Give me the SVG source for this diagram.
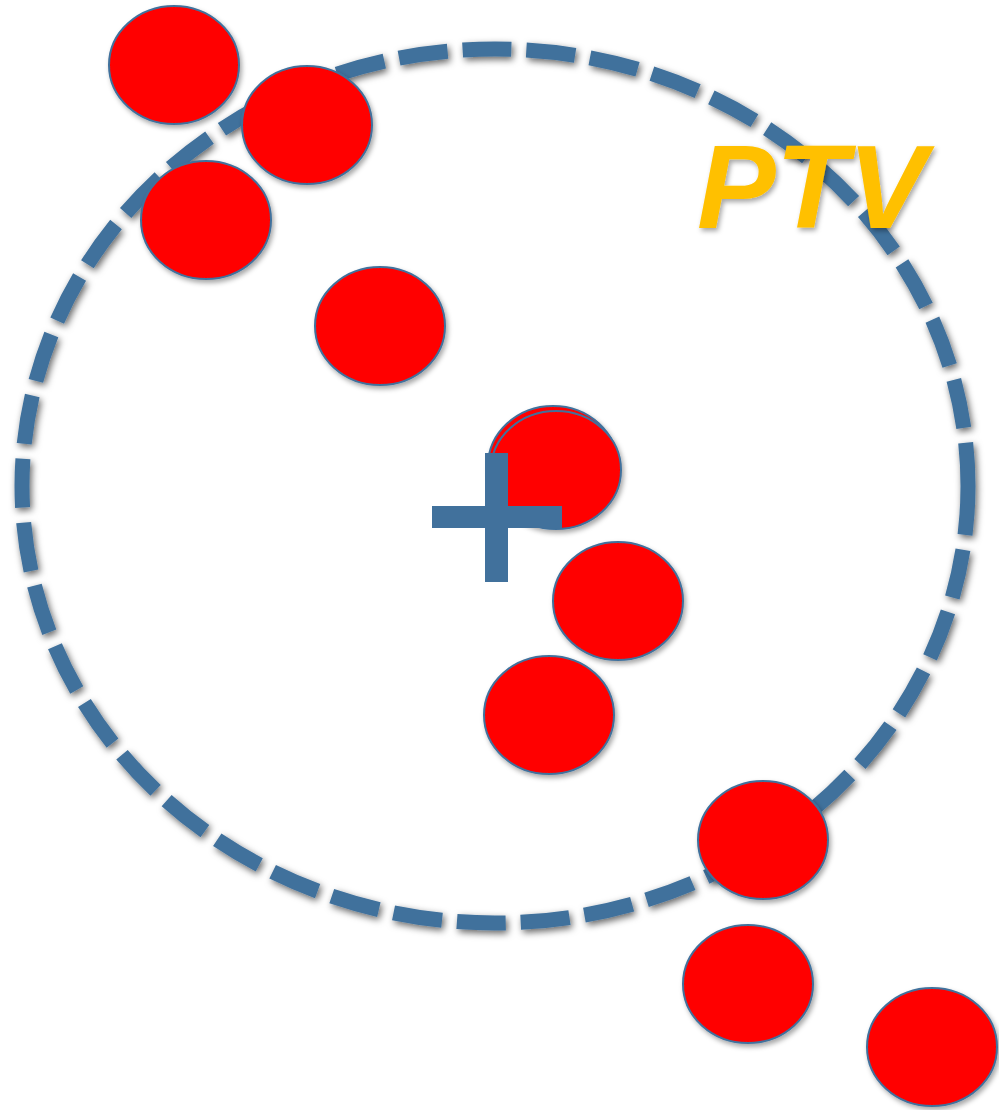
<svg xmlns="http://www.w3.org/2000/svg" width="999" height="1110" viewBox="0 0 999 1110">
  <defs>
    <filter id="sh" x="-20%" y="-20%" width="140%" height="140%">
      <feDropShadow dx="2" dy="3" stdDeviation="2.5" flood-color="#000" flood-opacity="0.35"/>
    </filter>
    <filter id="shc" x="-10%" y="-10%" width="120%" height="120%">
      <feDropShadow dx="2" dy="3" stdDeviation="3.5" flood-color="#000" flood-opacity="0.6"/>
    </filter>
  </defs>
  <style>
    .ptv { fill: none; stroke: #41719C; stroke-width: 15; stroke-dasharray: 49 15; }
    .dot { fill: #FF0000; stroke: #41719C; stroke-width: 2; }
    .plus { fill: #41719C; }
    .lbl { font-family: "Liberation Sans", Arial, sans-serif; font-weight: bold; font-style: italic; font-size: 118px; fill: #FFC000; }
  </style>
  <g id="ptv-outline" filter="url(#shc)">
    <ellipse class="ptv" cx="495" cy="486" rx="473" ry="437"/>
  </g>
  <g id="ptv-label" filter="url(#sh)">
    <text class="lbl" x="697" y="228">PTV</text>
  </g>
  <g id="spots" filter="url(#sh)">
    <ellipse id="s1" class="dot" cx="174" cy="65" rx="65" ry="59"/>
    <ellipse id="s2" class="dot" cx="307" cy="125" rx="65" ry="59"/>
    <ellipse id="s3" class="dot" cx="206" cy="220" rx="65" ry="59"/>
    <ellipse id="s4" class="dot" cx="380" cy="326" rx="65" ry="59"/>
    <ellipse id="s5a" class="dot" cx="553" cy="466" rx="65" ry="60"/>
    <ellipse id="s5b" class="dot" cx="556" cy="470" rx="65" ry="59"/>
    <ellipse id="s6" class="dot" cx="618" cy="601" rx="65" ry="59"/>
    <ellipse id="s7" class="dot" cx="549" cy="715" rx="65" ry="59"/>
    <ellipse id="s8" class="dot" cx="763" cy="840" rx="65" ry="59"/>
    <ellipse id="s9" class="dot" cx="748" cy="984" rx="65" ry="59"/>
    <ellipse id="s10" class="dot" cx="932" cy="1047" rx="65" ry="59"/>
  </g>
  <g id="isocenter">
    <rect class="plus" x="485" y="453" width="23" height="129"/>
    <rect class="plus" x="432" y="506" width="130" height="22"/>
  </g>
</svg>
